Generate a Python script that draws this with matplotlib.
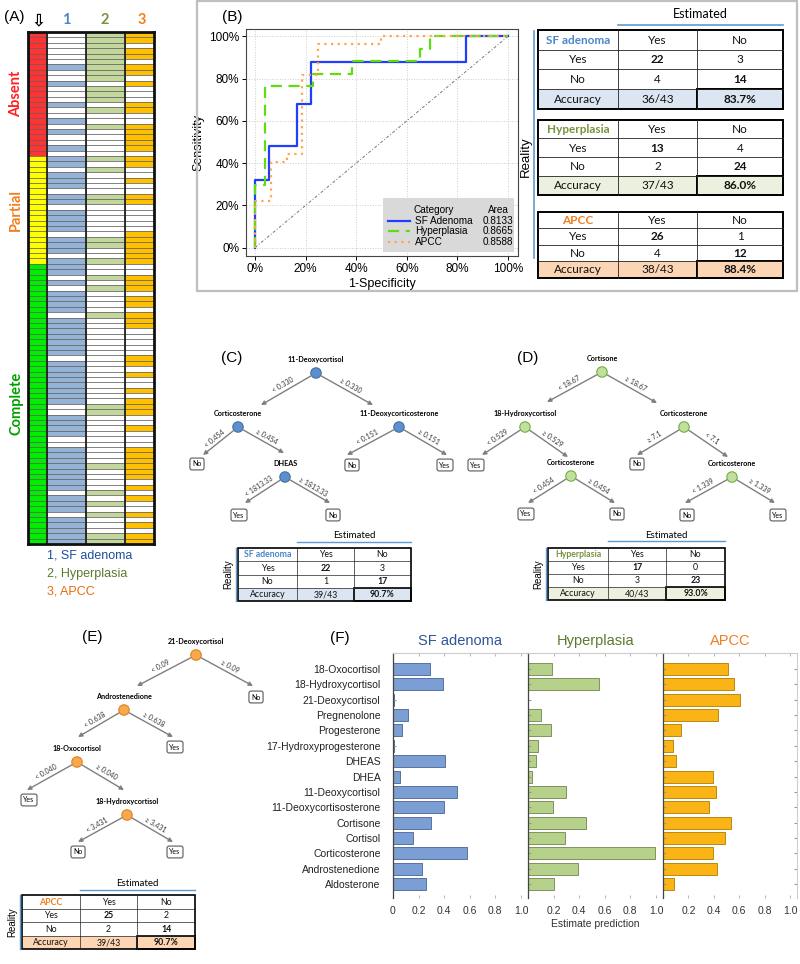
#import libraries
import numpy as np
import matplotlib
matplotlib.use('Agg')
import matplotlib.pyplot as plt
from matplotlib.patches import Rectangle, Circle

plt.rcParams['font.family'] = ['Liberation Sans', 'DejaVu Sans']
CAL = ['Lato', 'DejaVu Sans']      #calibri-like text for tables and trees

# ---------------- data ----------------
#panel A: sample status blocks and classifier calls (1 = positive)
status_names = ['Absent', 'Partial', 'Complete']
status_counts = [23, 20, 52]
sf_calls = ('0000001001' '0001001010' '0101101110' '1101111011' '1011101011'
            '1101111111' '0111111110' '0111100111' '1111101110' '11111')
hyp_calls = ('1111111110' '1110100100' '0001010000' '1100000011' '0010010100'
             '0010000000' '0000000001' '1000000000' '1000010101' '00011')
apcc_calls = ('1101101101' '0001100111' '1101100100' '1100000111' '1110011101'
              '1011100000' '1101001011' '1001000111' '1110101001' '01011')

#panel B: ROC step curves
roc_names = ['SF Adenoma', 'Hyperplasia', 'APCC']
roc_area = ['0.8133', '0.8665', '0.8588']
sf_fpr = [0, 0, 0.056, 0.167, 0.222, 0.833, 1.0]
sf_tpr = [0, 0.32, 0.48, 0.68, 0.88, 1.0, 1.0]
hyp_fpr = [0, 0, 0.038, 0.231, 0.385, 0.654, 0.692, 1.0]
hyp_tpr = [0, 0.294, 0.765, 0.824, 0.882, 0.941, 1.0, 1.0]
apcc_fpr = [0, 0, 0.0625, 0.125, 0.1875, 0.25, 0.5, 1.0]
apcc_tpr = [0, 0.222, 0.407, 0.444, 0.815, 0.963, 1.0, 1.0]

#confusion tables [[yes-yes, yes-no], [no-yes, no-no]], accuracy
cm_b_sf = [[22, 3], [4, 14]];   acc_b_sf = ['36/43', '83.7%']
cm_b_hyp = [[13, 4], [2, 24]];  acc_b_hyp = ['37/43', '86.0%']
cm_b_apcc = [[26, 1], [4, 12]]; acc_b_apcc = ['38/43', '88.4%']
cm_c = [[22, 3], [1, 17]];      acc_c = ['39/43', '90.7%']
cm_d = [[17, 0], [3, 23]];      acc_d = ['40/43', '93.0%']
cm_e = [[25, 2], [2, 14]];      acc_e = ['39/43', '90.7%']

#panel F: estimate prediction per steroid
steroids = ['18-Oxocortisol', '18-Hydroxycortisol', '21-Deoxycortisol', 'Pregnenolone',
            'Progesterone', '17-Hydroxyprogesterone', 'DHEAS', 'DHEA', '11-Deoxycortisol',
            '11-Deoxycortisosterone', 'Cortisone', 'Cortisol', 'Corticosterone',
            'Androstenedione', 'Aldosterone']
pred_sf = [0.29, 0.39, 0.01, 0.115, 0.07, 0.005, 0.405, 0.055, 0.50, 0.40, 0.30, 0.16, 0.577, 0.23, 0.26]
pred_hyp = [0.19, 0.555, 0.0, 0.10, 0.18, 0.08, 0.065, 0.035, 0.30, 0.195, 0.455, 0.29, 0.99, 0.39, 0.205]
pred_apcc = [0.515, 0.56, 0.61, 0.43, 0.14, 0.078, 0.105, 0.39, 0.42, 0.365, 0.535, 0.485, 0.39, 0.425, 0.085]

#colours
c_blue, c_green, c_orange = '#4a86c8', '#77933c', '#f07f1e'

W, H = 800, 964
fig = plt.figure(figsize=(8, 9.64), dpi=100)

def ax_px(l, t, r, b):
	return fig.add_axes([l / W, 1 - b / H, (r - l) / W, (b - t) / H])

# ---------------- panel A ----------------
A_TOP, A_BOT = 32, 544
axA = ax_px(28, A_TOP, 154, A_BOT)
n = sum(status_counts)
rows = np.arange(n)
stat_col = []
for c, k in zip(['#ff3333', '#ffff00', '#00ee00'], status_counts):
	stat_col += [c] * k
col_edges = [0, 19, 58, 97, 126]
columns = [stat_col,
	[('#95b3d7' if s == '1' else 'white') for s in sf_calls],
	[('#c3d69b' if s == '1' else 'white') for s in hyp_calls],
	[('#ffc000' if s == '1' else 'white') for s in apcc_calls]]
for j, cols in enumerate(columns):
	axA.barh(rows, col_edges[j + 1] - col_edges[j], left=col_edges[j], height=1,
		color=cols, edgecolor='#5a5a5a', linewidth=0.45, align='edge')
for xe in col_edges[1:-1]:
	axA.axvline(xe, color='#222', lw=1.3)
axA.set_xlim(0, 126)
axA.set_ylim(n, 0)
axA.set_xticks([]); axA.set_yticks([])
for s in axA.spines.values():
	s.set_linewidth(2); s.set_color('#111')

# ---------------- panel B ROC ----------------
axB = ax_px(246, 29, 518, 256)
axB.plot([0, 1], [0, 1], color='#777', lw=0.7, ls=(0, (3, 2, 1, 2)))
axB.plot(sf_fpr, sf_tpr, drawstyle='steps-post', color='#1f3fff', lw=1.6)
axB.plot(hyp_fpr, hyp_tpr, drawstyle='steps-post', color='#5fdd10', lw=1.6, ls=(0, (5, 3)))
axB.plot(apcc_fpr, apcc_tpr, drawstyle='steps-post', color='#ffa64d', lw=1.6, ls=(0, (1, 2)))
tk = np.arange(0, 1.01, 0.2)
axB.set_xticks(tk); axB.set_yticks(tk)
axB.set_xticklabels(['%d%%' % round(t * 100) for t in tk], fontsize=8.5)
axB.set_yticklabels(['%d%%' % round(t * 100) for t in tk], fontsize=8.5)
axB.set_xlim(-0.036, 1.04); axB.set_ylim(-0.04, 1.035)
axB.grid(True, color='#cccccc', ls=':', lw=0.7)
axB.set_xlabel('1-Specificity', fontsize=9, labelpad=2)
axB.set_ylabel('Sensitivity', fontsize=9, labelpad=3)
axB.tick_params(length=3, width=0.7, pad=2)
for s in axB.spines.values():
	s.set_linewidth(0.8); s.set_color('#444')

# ---------------- panel F ----------------
f_specs = [(393, 528, pred_sf, '#7b9fd4', '#56739f', 'SF adenoma', '#2e5597'),
	(528, 663, pred_hyp, '#b5d18a', '#80925f', 'Hyperplasia', '#5b7a2e'),
	(663, 797, pred_apcc, '#fbb415', '#b88a10', 'APCC', '#f07f1e')]
ypos = np.arange(len(steroids))
for k, (l, r, vals, fc, ec, title, tc) in enumerate(f_specs):
	ax = ax_px(l, 653, r, 898)
	ax.barh(ypos, vals, height=0.78, color=fc, edgecolor=ec, linewidth=0.7)
	ax.set_xlim(0, 1.055)
	ax.set_ylim(len(steroids) - 0.1, -1.04)
	xt = [0, 0.2, 0.4, 0.6, 0.8, 1.0]
	ax.set_xticks(xt)
	ax.set_xticklabels([('0' if k == 0 else '') if t == 0 else '%.1f' % t for t in xt], fontsize=7.5, color='#333')
	ax.set_yticks(ypos)
	if k == 0:
		ax.set_yticklabels(steroids, fontsize=7.5, color='#222')
	else:
		ax.set_yticklabels([])
	ax.tick_params(axis='y', direction='in', length=2, color='#999', left=True, right=(k == 2), pad=9)
	ax.tick_params(axis='x', direction='in', length=2, color='#bbb', top=True, pad=6)
	ax.spines['left'].set_color('#444'); ax.spines['left'].set_linewidth(0.9)
	for sp in ['top', 'right']:
		ax.spines[sp].set_color('#cccccc'); ax.spines[sp].set_linewidth(0.8)
	ax.spines['bottom'].set_visible(False)
	if k < 2:
		ax.spines['right'].set_visible(False)
	ax.set_title(title, fontsize=10.5, color=tc, pad=6)
	if k == 1:
		ax.set_xlabel('Estimate prediction', fontsize=7.5, color='#333', labelpad=2)

# ---------------- overlay for texts, tables and trees ----------------
ov = fig.add_axes([0, 0, 1, 1])
ov.set_zorder(10)
ov.patch.set_alpha(0)
ov.axis('off')
ov.set_autoscale_on(False)
ov.set_xlim(0, W); ov.set_ylim(H, 0)

def txt(x, y, s, **kw):
	ov.text(x, y, s, ha=kw.pop('ha', 'center'), va=kw.pop('va', 'center'), **kw)

#panel A labels
txt(14, 17, '(A)', fontsize=11)
txt(38, 20, '\u21e9', fontsize=12, family='DejaVu Sans', fontweight='bold')
for x, s, c in [(66, '1', c_blue), (105, '2', c_green), (142, '3', c_orange)]:
	txt(x, 20, s, fontsize=10.5, color=c, fontweight='bold', family=CAL)
row_h = (A_BOT - A_TOP) / n
start = 0
for name, k, c in zip(status_names, status_counts, ['#ff2020', '#f07f1e', '#00a000']):
	txt(16, A_TOP + (start + k / 2) * row_h, name, fontsize=10.5, rotation=90, color=c, fontweight='bold', family=CAL)
	start += k
for y, s, c in [(556, '1, SF adenoma', '#1f4e9e'), (574, '2, Hyperplasia', '#5b7a2e'), (592, '3, APCC', '#e46c0a')]:
	txt(47, y, s, fontsize=9, color=c, ha='left')

#panel B frame and legend
ov.add_patch(Rectangle((197, 1), 600, 290, fill=False, ec='#bfbfbf', lw=1.6))
txt(232, 17, '(B)', fontsize=11)
ov.add_patch(Rectangle((383, 198), 131, 54, fc='#d9d9d9', ec='none'))
txt(434, 210, 'Category', fontsize=7.2)
txt(498, 210, 'Area', fontsize=7.2)
leg_styles = [dict(color='#1f3fff', ls='-'), dict(color='#5fdd10', ls=(0, (5, 3))), dict(color='#ffa64d', ls=(0, (1, 2)))]
for i, (nm, ar, st) in enumerate(zip(roc_names, roc_area, leg_styles)):
	y = 221 + i * 10.3
	ov.plot([388, 410], [y, y], lw=1.6, **st)
	txt(415, y, nm, fontsize=7.2, ha='left')
	txt(498, y, ar, fontsize=7.2)

def draw_table(x, top, rh, head, head_col, cm, acc, fill, fs, lw_in=0.6, lw_out=1.4):
	rows = [[head, 'Yes', 'No'], ['Yes', cm[0][0], cm[0][1]], ['No', cm[1][0], cm[1][1]], ['Accuracy', acc[0], acc[1]]]
	bottom = top + 4 * rh
	ov.add_patch(Rectangle((x[0], top + 3 * rh), x[3] - x[0], rh, fc=fill, ec='none'))
	for i in range(1, 4):
		ov.plot([x[0], x[3]], [top + i * rh] * 2, color='#222', lw=lw_in)
	for j in (1, 2):
		ov.plot([x[j]] * 2, [top, bottom], color='#222', lw=lw_in)
	ov.add_patch(Rectangle((x[0], top), x[3] - x[0], 4 * rh, fill=False, ec='k', lw=lw_out))
	ov.add_patch(Rectangle((x[2], top + 3 * rh), x[3] - x[2], rh, fill=False, ec='k', lw=lw_out))
	for i, row in enumerate(rows):
		for j, s in enumerate(row):
			bold = (i, j) in [(0, 0), (1, 1), (2, 2), (3, 2)]
			txt((x[j] + x[j + 1]) / 2, top + (i + 0.52) * rh, str(s), fontsize=fs,
				fontweight='bold' if bold else 'normal',
				color=head_col if (i, j) == (0, 0) else '#111', family=CAL)

#panel B tables
bx = [538, 618, 697, 783]
txt(700, 14, 'Estimated', fontsize=9, family=CAL)
ov.plot([618, 783], [24.5, 24.5], color='#5b9bd5', lw=1.2)
ov.plot([534, 534], [31, 258], color='#5b9bd5', lw=1.2)
txt(526, 157, 'Reality', fontsize=9.5, rotation=90)
draw_table(bx, 30, 19.7, 'SF adenoma', c_blue, cm_b_sf, acc_b_sf, '#dce6f2', 8.5)
draw_table(bx, 119.5, 18.8, 'Hyperplasia', c_green, cm_b_hyp, acc_b_hyp, '#ebf1de', 8.5)
draw_table(bx, 211.5, 16.6, 'APCC', c_orange, cm_b_apcc, acc_b_apcc, '#fcd5b5', 8.5)

def draw_tree(nodes, edges, leaves, fc, ec):
	for name, x, y in nodes:
		ov.add_patch(Circle((x, y), 5.2, fc=fc, ec=ec, lw=0.8, zorder=3))
		txt(x, y - 13.5, name, fontsize=5.2, fontweight='bold', family=CAL)
	for p, x2, y2, lab in edges:
		_, x1, y1 = nodes[p]
		dx, dy = x2 - x1, y2 - y1
		d = np.hypot(dx, dy)
		sx, sy = x1 + dx / d * 6, y1 + dy / d * 6
		ov.annotate('', xy=(x2, y2), xytext=(sx, sy),
			arrowprops=dict(arrowstyle='-|>', color='#7f7f7f', lw=1.0, mutation_scale=6, shrinkA=0, shrinkB=0))
		ang = np.degrees(np.arctan2(-dy, dx))
		if ang > 90:
			ang -= 180
		elif ang < -90:
			ang += 180
		r = np.radians(ang)
		mx, my = (sx + x2) / 2, (sy + y2) / 2
		txt(mx - np.sin(r) * 6, my - np.cos(r) * 6, lab, rotation=ang, rotation_mode='anchor',
			fontsize=5, family=CAL, color='#333')
	for s, x, y in leaves:
		txt(x, y, s, fontsize=5, family=CAL,
			bbox=dict(boxstyle='round,pad=0.35,rounding_size=0.3', fc='white', ec='#595959', lw=0.8))

def small_table(x, top, rh, head, head_col, cm, acc, fill, est_y, real_x):
	txt((x[1] + x[3]) / 2, est_y, 'Estimated', fontsize=7, family=CAL)
	ov.plot([x[1], x[3]], [est_y + 6, est_y + 6], color='#5b9bd5', lw=1.0)
	ov.plot([x[0] - 2, x[0] - 2], [top, top + 4 * rh], color='#5b9bd5', lw=1.0)
	txt(real_x, top + 2 * rh, 'Reality', fontsize=7, rotation=90)
	draw_table(x, top, rh, head, head_col, cm, acc, fill, 6.3, lw_in=0.5, lw_out=1.2)

#panel C
txt(232, 358, '(C)', fontsize=11)
c_nodes = [('11-Deoxycortisol', 316, 373), ('Corticosterone', 238, 427),
	('11-Deoxycorticosterone', 399, 427), ('DHEAS', 285, 477)]
c_edges = [(0, 261, 405, '< 0.330'), (0, 373, 405, '\u2265 0.330'), (1, 203, 455, '< 0.454'),
	(1, 284, 453, '\u2265 0.454'), (2, 347, 455, '< 0.151'), (2, 447, 455, '\u2265 0.151'),
	(3, 245, 503, '< 1813.33'), (3, 330, 503, '\u2265 1813.33')]
c_leaves = [('No', 197, 464), ('No', 352, 465), ('Yes', 445, 465), ('Yes', 239, 515), ('No', 333, 515)]
draw_tree(c_nodes, c_edges, c_leaves, '#5b8fd0', '#41719c')
small_table([238, 297, 354, 411], 548, 13.3, 'SF adenoma', c_blue, cm_c, acc_c, '#dce6f2', 536, 228)

#panel D
txt(528, 358, '(D)', fontsize=11)
d_nodes = [('Cortisone', 602, 372), ('18-Hydroxycortisol', 525, 427), ('Corticosterone', 684, 427),
	('Corticosterone', 571, 476), ('Corticosterone', 732, 477)]
d_edges = [(0, 547, 402, '< 18.67'), (0, 657, 403, '\u2265 18.67'), (1, 482, 455, '< 0.529'),
	(1, 568, 457, '\u2265 0.529'), (3, 528, 503, '< 0.454'), (3, 615, 503, '\u2265 0.454'),
	(2, 637, 455, '\u2265 7.1'), (2, 728, 457, '< 7.1'), (4, 685, 503, '< 1.339'), (4, 775, 503, '\u2265 1.339')]
d_leaves = [('Yes', 476, 465), ('Yes', 526, 514), ('No', 617, 514), ('No', 637, 464),
	('No', 687, 515), ('Yes', 778, 515)]
draw_tree(d_nodes, d_edges, d_leaves, '#c3dfa0', '#6fb23a')
small_table([548, 608, 666, 725], 548, 13.0, 'Hyperplasia', c_green, cm_d, acc_d, '#ebf1de', 535, 538)

#panel E
txt(92, 637, '(E)', fontsize=11)
e_nodes = [('21-Deoxycortisol', 196, 655), ('Androstenedione', 124, 710),
	('18-Oxocortisol', 77, 762), ('18-Hydroxycortisol', 127, 815)]
e_edges = [(0, 137, 686, '< 0.09'), (0, 253, 686, '\u2265 0.09'), (1, 78, 737, '< 0.638'),
	(1, 173, 737, '\u2265 0.638'), (2, 27, 790, '< 0.040'), (2, 124, 790, '\u2265 0.040'),
	(3, 78, 842, '< 3.431'), (3, 173, 842, '\u2265 3.431')]
e_leaves = [('No', 256, 697), ('Yes', 175, 747), ('Yes', 29, 800), ('No', 78, 852), ('Yes', 175, 852)]
draw_tree(e_nodes, e_edges, e_leaves, '#f8a94e', '#e0801a')
small_table([22, 80, 137, 195], 895, 13.5, 'APCC', c_orange, cm_e, acc_e, '#fcd5b5', 884, 12)

#panel F label
txt(340, 638, '(F)', fontsize=11)

plt.savefig('out.png', dpi=100)
